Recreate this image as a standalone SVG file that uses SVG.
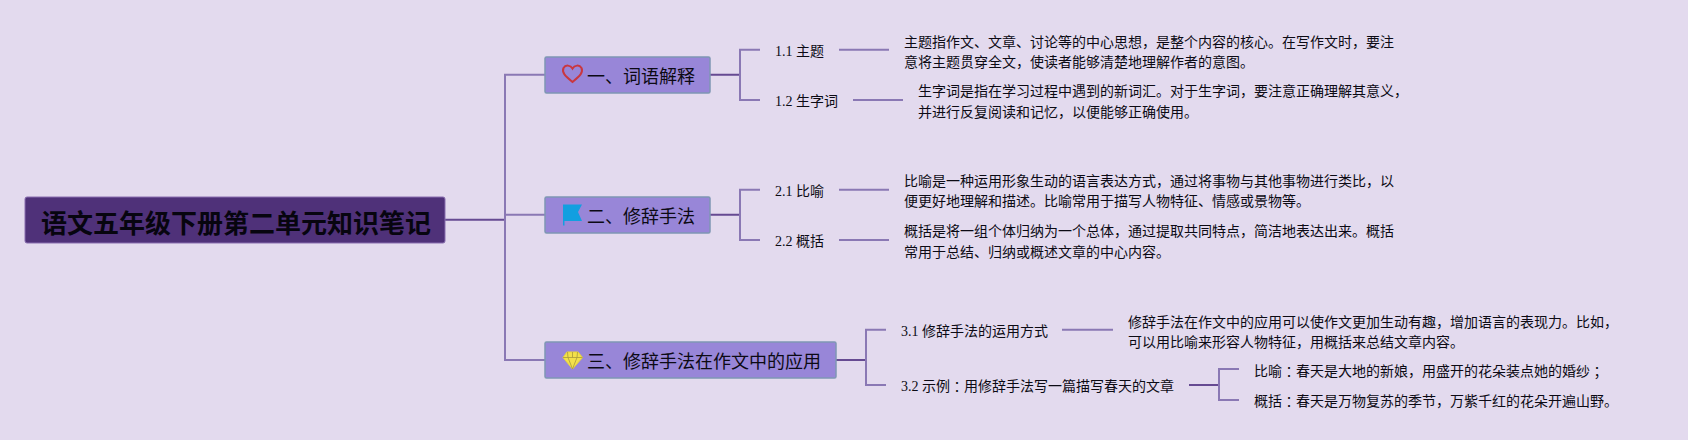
<svg xmlns="http://www.w3.org/2000/svg" width="1688" height="440" viewBox="0 0 1688 440">
<style>
text{font-family:"Liberation Serif","Noto Sans CJK SC",serif;fill:#0c0a14;dominant-baseline:central}
.c{font-family:"Noto Sans CJK TC",sans-serif}
.t{font-size:14px}
.m{font-size:18px;font-family:"Noto Sans CJK SC",sans-serif}
.r{font-size:26px;font-weight:700;font-family:"Noto Sans CJK SC",sans-serif;fill:#07050f}
.box{fill:#9886d8;stroke:#7f97b4;stroke-width:1.500}
.l{fill:none;stroke:#8a78b4;stroke-width:2}
.d{fill:none;stroke:#664a92;stroke-width:2}
</style>
<rect width="1688" height="440" fill="#e3daee"/>
<g id="connectors">
<path class="d" d="M445 219.700H505"/>
<path class="l" d="M545 74.700H505V360H545M505 214.700H545"/>
<path class="d" d="M710 74.700H740M710 214.700H740M836 360H866M1189 385H1219"/>
<path class="l" d="M760 49.700H740V100H760M760 189.700H740V240H760M886 329.700H866V385H886M1239 369H1219V400H1239"/>
<path class="l" d="M839 49.700H889M853 100H903M839 189.700H889M839 240H889M1062 329.700H1113"/>
</g>
<g id="root"><rect x="25" y="197" width="420" height="46" rx="2" fill="#4f3179" stroke="#8a6fb0" stroke-width="1"/><text class="r" x="41" y="221">语文五年级下册第二单元知识笔记</text></g>
<g id="n1"><rect class="box" x="545" y="57" width="165" height="36" rx="1.500"/>
<path d="M572.500 82C565 76 561.500 72.500 563.500 68C565.500 64.500 570.500 65 572.500 68.500C574.500 65 579.500 64.500 581.500 68C583.500 72.500 580 76 572.500 82Z" fill="none" stroke="#c9373f" stroke-width="2"/>
<text class="m" x="587" y="75">一、词语解释</text></g>
<g id="n2"><rect class="box" x="545" y="197" width="165" height="36" rx="1.500"/>
<path d="M563 204.500H582L578 212L582 221H564.500V225.500H563Z" fill="#129fe0"/>
<text class="m" x="587" y="215">二、修辞手法</text></g>
<g id="n3"><rect class="box" x="545" y="342" width="291" height="36" rx="1.500"/>
<path d="M567 352H578L582.500 357.500L572.500 369L563 357.500Z" fill="#f3e14a" stroke="#e9d63c"/>
<path d="M563 357.500H582.500M567.500 352L568 357.500L572.500 369L577 357.500L577.500 352M572.500 352V357.500" fill="none" stroke="#a89a3c" stroke-width=".8"/>
<text class="m" x="587" y="360">三、修辞手法在作文中的应用</text></g>
<g id="n11"><text class="t" x="775" y="51">1.1 主题</text></g>
<g id="n12"><text class="t" x="775" y="101">1.2 生字词</text></g>
<g id="n21"><text class="t" x="775" y="191">2.1 比喻</text></g>
<g id="n22"><text class="t" x="775" y="241">2.2 概括</text></g>
<g id="n31"><text class="t" x="901" y="331">3.1 修辞手法的运用方式</text></g>
<g id="n32"><text class="t" x="901" y="386">3.2 示例<tspan class="c">：</tspan>用修辞手法写一篇描写春天的文章</text></g>
<g id="d11"><text class="t" x="904" y="42">主题指作文、文章、讨论等的中心思想，是整个内容的核心。在写作文时，要注</text><text class="t" x="904" y="62">意将主题贯穿全文，使读者能够清楚地理解作者的意图。</text></g>
<g id="d12"><text class="t" x="918" y="91">生字词是指在学习过程中遇到的新词汇。对于生字词，要注意正确理解其意义，</text><text class="t" x="918" y="112">并进行反复阅读和记忆，以便能够正确使用。</text></g>
<g id="d21"><text class="t" x="904" y="181">比喻是一种运用形象生动的语言表达方式，通过将事物与其他事物进行类比，以</text><text class="t" x="904" y="201">便更好地理解和描述。比喻常用于描写人物特征、情感或景物等。</text></g>
<g id="d22"><text class="t" x="904" y="231">概括是将一组个体归纳为一个总体，通过提取共同特点，简洁地表达出来。概括</text><text class="t" x="904" y="252">常用于总结、归纳或概述文章的中心内容。</text></g>
<g id="d31"><text class="t" x="1128" y="322">修辞手法在作文中的应用可以使作文更加生动有趣，增加语言的表现力。比如，</text><text class="t" x="1128" y="342">可以用比喻来形容人物特征，用概括来总结文章内容。</text></g>
<g id="d321"><text class="t" x="1254" y="371">比喻<tspan class="c">：</tspan>春天是大地的新娘，用盛开的花朵装点她的婚纱<tspan class="c">；</tspan></text></g>
<g id="d322"><text class="t" x="1254" y="401">概括<tspan class="c">：</tspan>春天是万物复苏的季节，万紫千红的花朵开遍山野。</text></g>
</svg>
